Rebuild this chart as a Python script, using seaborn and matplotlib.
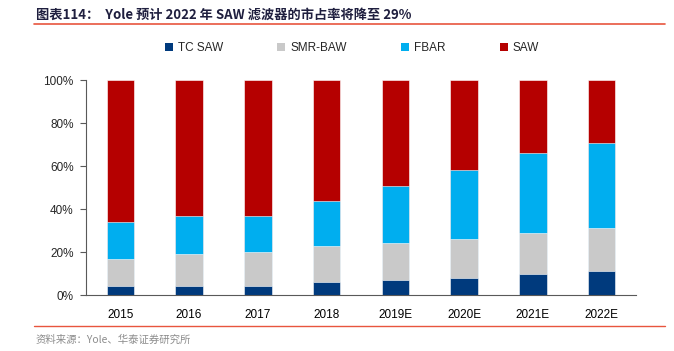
import matplotlib
matplotlib.use('Agg')
import matplotlib.pyplot as plt
from matplotlib.lines import Line2D
from matplotlib.patches import Patch
from matplotlib.ticker import FixedLocator, PercentFormatter
import numpy as np
import pandas as pd
import seaborn as sns

years = ['2015', '2016', '2017', '2018', '2019E', '2020E', '2021E', '2022E']
tc_saw = [4, 4, 4, 6, 7, 8, 10, 11]
smr_baw = [13, 15, 16, 17, 17, 18, 19, 20]
fbar = [17, 18, 17, 21, 27, 32, 37, 40]
saw = [66, 63, 63, 56, 49, 42, 34, 29]

series = ['TC SAW', 'SMR-BAW', 'FBAR', 'SAW']
colors = ['#003A7D', '#C9C9C9', '#00AEEF', '#B50000']

sns.set_style('white')
plt.rcParams['font.family'] = ['Liberation Sans', 'Noto Sans CJK SC', 'DejaVu Sans']

fig = plt.figure(figsize=(6.74, 3.51), dpi=100)
ax = fig.add_axes([0.1276, 0.1595, 0.816, 0.6117])

# stacked bars: draw cumulative totals, tallest first
values = np.array([tc_saw, smr_baw, fbar, saw])
cum = values.cumsum(axis=0)
for i in range(len(series) - 1, -1, -1):
    df = pd.DataFrame({'year': years, 'val': cum[i]})
    sns.barplot(data=df, x='year', y='val', color=colors[i], width=0.4,
                edgecolor='white', linewidth=0.4, saturation=1, ax=ax)

ax.set_xlim(-0.5, len(years) - 0.5)
ax.set_ylim(0, 100)
ax.yaxis.set_major_locator(FixedLocator([0, 20, 40, 60, 80, 100]))
ax.yaxis.set_major_formatter(PercentFormatter(decimals=0))
ax.set_xlabel('')
ax.set_ylabel('')

for s in ['top', 'right']:
    ax.spines[s].set_visible(False)
for s in ['left', 'bottom']:
    ax.spines[s].set_color('#595959')
    ax.spines[s].set_linewidth(0.8)

ax.xaxis.set_minor_locator(FixedLocator(np.arange(-0.5, len(years), 1)))
ax.tick_params(axis='x', which='major', length=0, labelsize=8.5, pad=10, colors='black')
ax.tick_params(axis='x', which='minor', length=4, width=0.8, color='#595959', direction='out')
ax.tick_params(axis='y', length=4, width=0.8, color='#595959', direction='out',
               labelsize=8.5, pad=5, left=True)

handles = [Patch(facecolor=c, edgecolor='none') for c in colors]
fig.legend(handles, series, loc='center', bbox_to_anchor=(0.522, 0.862), ncol=4,
           frameon=False, fontsize=8.5, handlelength=0.7, handleheight=0.7,
           handletextpad=0.4, columnspacing=4.6)

fig.text(0.053, 0.958, '图表114：  Yole 预计 2022 年 SAW 滤波器的市占率将降至 29%',
         fontsize=9.5, fontweight='bold', color='#1F1F3F', va='center',
         family=['Noto Sans CJK SC', 'DejaVu Sans'])
fig.add_artist(Line2D([0.05, 0.987], [0.932, 0.932], color='#E8553E', linewidth=1.2))
fig.add_artist(Line2D([0.05, 0.987], [0.071, 0.071], color='#E8553E', linewidth=1.0))
fig.text(0.053, 0.032, '资料来源：Yole、华泰证券研究所', fontsize=7.5, color='#8C8C8C',
         va='center', family=['Noto Sans CJK SC', 'DejaVu Sans'])

fig.savefig('out.png', dpi=100)
